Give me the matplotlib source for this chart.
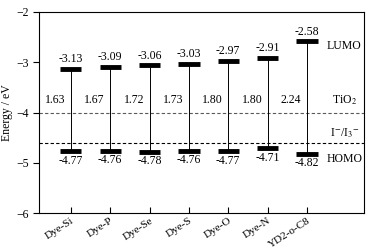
import matplotlib
matplotlib.use('Agg')
import matplotlib.pyplot as plt
import numpy as np

### data ###
dyes = ['Dye-Si', 'Dye-P', 'Dye-Se', 'Dye-S', 'Dye-O', 'Dye-N', 'YD2-o-C8']
lumo = [-3.13, -3.09, -3.06, -3.03, -2.97, -2.91, -2.58]
homo = [-4.77, -4.76, -4.78, -4.76, -4.77, -4.71, -4.82]
gap = ['1.63', '1.67', '1.72', '1.73', '1.80', '1.80', '2.24']
tio2 = -4.0
redox = -4.6

plt.rcParams['font.family'] = ['Liberation Serif', 'DejaVu Serif']
plt.rcParams['font.size'] = 8.5
plt.rcParams['mathtext.fontset'] = 'stix'
plt.rcParams['axes.unicode_minus'] = True

fig = plt.figure(figsize=(3.78, 2.48), dpi=100)
ax = fig.add_axes([0.103, 0.14, 0.860, 0.812])

x = np.arange(len(dyes))

### reference levels ###
ax.axhline(tio2, color='0.35', ls=(0, (3, 2)), lw=0.8)
ax.axhline(redox, color='black', ls=(0, (3, 2)), lw=0.8)

### levels + connecting lines ###
for i in x:
    ax.plot([i, i], [homo[i], lumo[i]], color='black', lw=0.7)
    ax.plot([i - 0.27, i + 0.27], [lumo[i], lumo[i]], color='black', lw=3.5, solid_capstyle='butt')
    ax.plot([i - 0.27, i + 0.27], [homo[i], homo[i]], color='black', lw=3.5, solid_capstyle='butt')
    ax.text(i, lumo[i] + 0.07, '%.2f' % lumo[i], ha='center', va='bottom')
    ax.text(i, homo[i] - 0.07, '%.2f' % homo[i], ha='center', va='top')
    ax.text(i - 0.4, -3.75, gap[i], ha='center', va='center')

### side labels ###
ax.text(6.95, -2.68, 'LUMO', ha='center', va='center')
ax.text(6.95, -3.75, 'TiO$_2$', ha='center', va='center')
ax.text(6.95, -4.42, 'I$^{-}$/I$_3$$^{-}$', ha='center', va='center')
ax.text(6.95, -4.93, 'HOMO', ha='center', va='center')

ax.set_xlim(-0.81, 7.45)
ax.set_ylim(-6, -2)
ax.set_yticks([-6, -5, -4, -3, -2])
ax.set_xticks(x)
ax.set_xticklabels(dyes, rotation=33, ha='right', rotation_mode='anchor', fontsize=8)
ax.tick_params(axis='y', direction='out', length=4, width=0.8)
ax.tick_params(axis='x', direction='in', length=4, width=0.8, pad=2)
ax.set_ylabel('Energy / eV', labelpad=2)
for s in ax.spines.values():
    s.set_linewidth(0.8)

fig.savefig('out.png', dpi=100)
plt.close()
